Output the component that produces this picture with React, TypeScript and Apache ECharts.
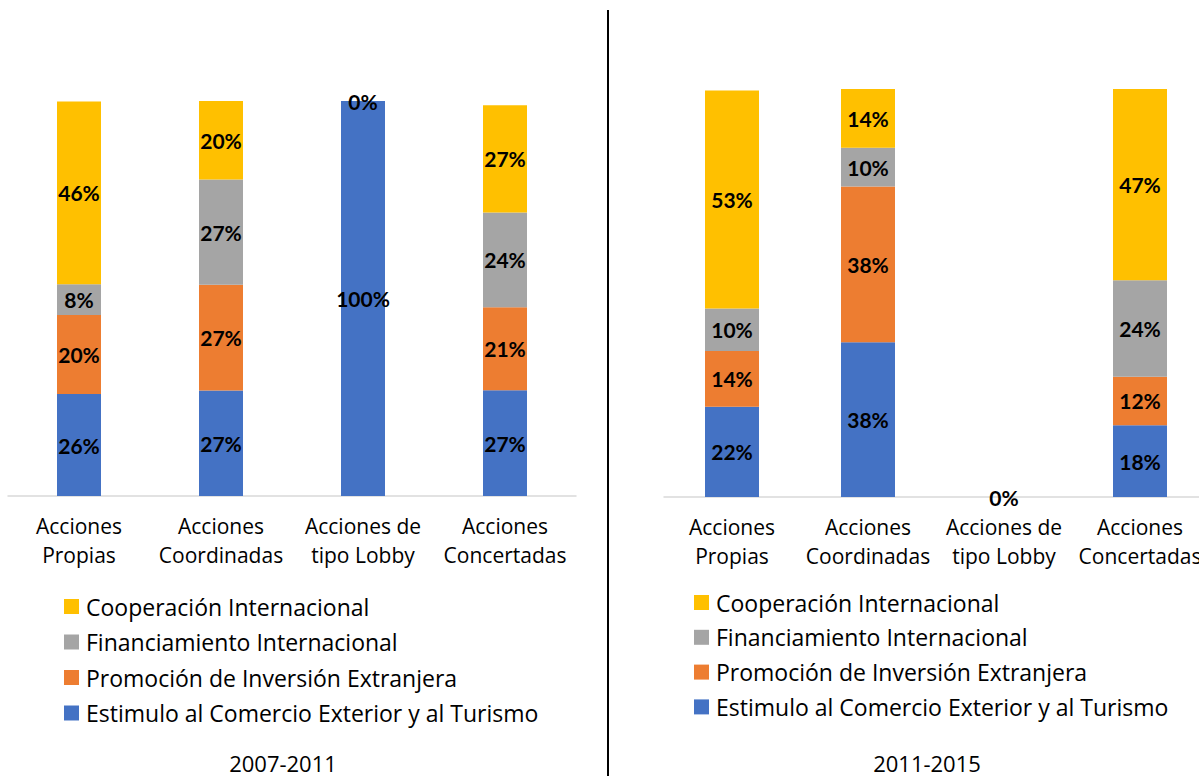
import React, { useEffect, useRef } from "react";
import * as echarts from "echarts";

const categories = ["Acciones\nPropias", "Acciones\nCoordinadas", "Acciones de\ntipo Lobby", "Acciones\nConcertadas"];
const seriesNames = [
  "Estimulo al Comercio Exterior y al Turismo",
  "Promoción de Inversión Extranjera",
  "Financiamiento Internacional",
  "Cooperación Internacional",
];
const legendOrder = [
  "Cooperación Internacional",
  "Financiamiento Internacional",
  "Promoción de Inversión Extranjera",
  "Estimulo al Comercio Exterior y al Turismo",
];
const colors = ["#4472C4", "#ED7D31", "#A5A5A5", "#FFC000"];

// 2007-2011 (percent)
const left2007Estimulo = [25.8, 26.7, 100, 26.8];
const left2007Promocion = [20.0, 26.8, 0, 21.0];
const left2007Financiamiento = [7.8, 26.6, 0, 24.0];
const left2007Cooperacion = [46.3, 20.0, 0, 27.1];

// 2011-2015 (percent)
const right2011Estimulo = [22.1, 37.9, 0, 17.6];
const right2011Promocion = [13.7, 38.2, 0, 11.9];
const right2011Financiamiento = [10.4, 9.5, 0, 23.6];
const right2011Cooperacion = [53.45, 14.4, 0, 46.9];

const panelTitles = ["2007-2011", "2011-2015"];

const FONT = "'Open Sans', 'Noto Sans', sans-serif";
const LABEL_FONT = "Lato, 'Noto Sans', sans-serif";

export default function App() {
  const ref = useRef<HTMLDivElement>(null);
  useEffect(() => {
    document.body.style.margin = "0";
    if (!ref.current) return;
    const chart = echarts.init(ref.current, null, { renderer: "svg" });

    const leftData = [left2007Estimulo, left2007Promocion, left2007Financiamiento, left2007Cooperacion];
    const rightData = [right2011Estimulo, right2011Promocion, right2011Financiamiento, right2011Cooperacion];

    const mkSeries = (data: number[][], idx: number, barWidth: number) =>
      data.map((vals, i) => ({
        name: seriesNames[i],
        type: "bar",
        stack: "s" + idx,
        xAxisIndex: idx,
        yAxisIndex: idx,
        barWidth,
        data: vals,
        itemStyle: { color: colors[i] },
        label: {
          show: true,
          position: "inside",
          color: "#000",
          fontWeight: "bold",
          fontSize: 21,
          fontFamily: LABEL_FONT,
          formatter: (p: any) => {
            const v = p.value as number;
            if (v === 0 && i !== 3) return "";
            return Math.round(v) + "%";
          },
        },
      }));

    const xAxisBase = (gridIndex: number) => ({
      type: "category",
      gridIndex,
      data: categories,
      axisTick: { show: false },
      axisLine: { lineStyle: { color: "#D9D9D9", width: 1.5 } },
      axisLabel: {
        color: "#000",
        fontSize: 21,
        fontFamily: FONT,
        lineHeight: 29,
        margin: 15,
        interval: 0,
      },
    });
    const yAxisBase = (gridIndex: number) => ({
      type: "value",
      gridIndex,
      min: 0,
      max: 100,
      show: false,
      splitLine: { show: false },
    });

    const legendBase = (left: number, top: number, gap: number) => ({
      orient: "vertical",
      left,
      top,
      padding: 0,
      itemWidth: 15,
      itemHeight: 15,
      itemGap: gap,
      icon: "rect",
      data: legendOrder,
      textStyle: { fontSize: 23, fontFamily: FONT, color: "#000", lineHeight: 23, padding: [0, 0, 0, 2] },
      selectedMode: false,
    });

    chart.setOption({
      animation: false,
      grid: [
        { left: 8, width: 568, top: 101, bottom: 282 },
        { left: 664, width: 544, top: 89, bottom: 281 },
      ],
      xAxis: [xAxisBase(0), xAxisBase(1)],
      yAxis: [yAxisBase(0), yAxisBase(1)],
      legend: [legendBase(64, 595, 12.5), legendBase(694, 591, 11.8)],
      series: [...mkSeries(leftData, 0, 44), ...mkSeries(rightData, 1, 54)],
      graphic: [
        {
          type: "line",
          shape: { x1: 608, y1: 10, x2: 608, y2: 776 },
          style: { stroke: "#000", lineWidth: 2 },
        },
        {
          type: "text",
          x: 283,
          y: 774,
          style: { text: panelTitles[0], fontSize: 22, fontFamily: FONT, fill: "#000", align: "center", verticalAlign: "bottom" },
        },
        {
          type: "text",
          x: 927,
          y: 774,
          style: { text: panelTitles[1], fontSize: 22, fontFamily: FONT, fill: "#000", align: "center", verticalAlign: "bottom" },
        },
      ],
    });
    return () => chart.dispose();
  }, []);
  return (
    <div style={{ width: 1199, height: 778, overflow: "hidden", position: "relative" }}>
      <div ref={ref} style={{ width: 1220, height: 778 }} />
    </div>
  );
}
